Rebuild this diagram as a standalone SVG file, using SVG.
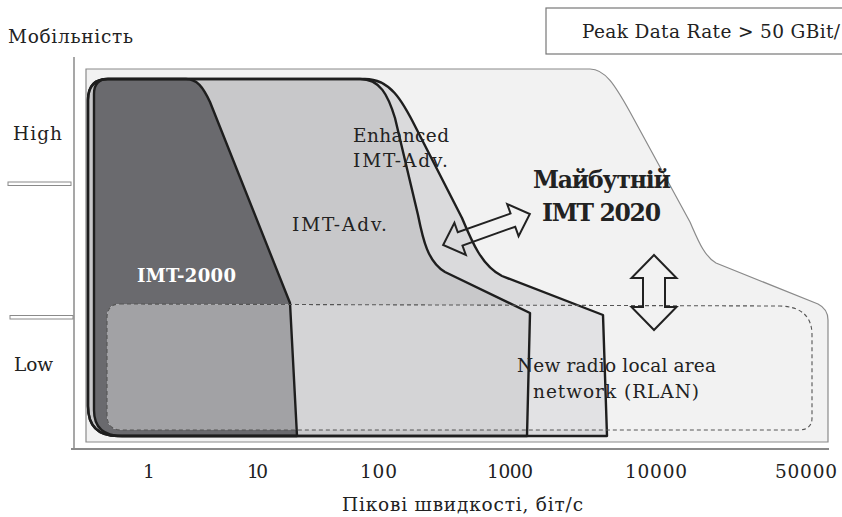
<svg xmlns="http://www.w3.org/2000/svg" xmlns:xlink="http://www.w3.org/1999/xlink" width="842" height="517" viewBox="0 0 842 517">
<style>
.t{font-family:"DejaVu Serif","Liberation Serif",serif;font-size:18.5px;fill:#222}
.b{font-weight:bold}
.out{fill:none;stroke:#1e1e1e;stroke-width:2.4;stroke-linejoin:round}
.arr{fill:none;stroke:#222;stroke-width:2;stroke-linejoin:miter}
.axis{stroke:#8a8a8a;fill:none}
.tick{fill:#fff;stroke:#8a8a8a;stroke-width:1}
</style>
<defs>
<path id="pEnh" d="M88,100 Q88,79 108,79 L365,79 C390,79 402,100 416,128 L462,218 C472,242 482,266 502,276 L603,315 L607,436 L118,436 Q88,436 88,406 Z"/>
<path id="pAdv" d="M88,100 Q88,79 108,79 L360,79 C380,79 388,95 395,118 L418,215 C423,240 428,262 445,272 L530,313 L527,436 L118,436 Q88,436 88,406 Z"/>
<path id="p2000" d="M94,94 Q94,79 108,79 L186,79 C197,79 203,87 210,102 L290,303 L297,436 L122,436 Q94,436 94,410 Z"/>
<path id="pRlan" d="M120,304 L780,306 Q812,307 812,335 L812,418 Q812,430 798,430 L122,430 Q107,430 107,415 L107,318 Q107,304 120,304 Z"/>
<clipPath id="cRlan"><use xlink:href="#pRlan"/></clipPath>
</defs>

<g id="axes">
<line class="axis" x1="74" y1="57" x2="74" y2="449" stroke-width="1.5"/>
<line class="axis" x1="71" y1="449" x2="829" y2="449" stroke-width="2"/>
<rect class="tick" x="8" y="182" width="63" height="3.5"/>
<rect class="tick" x="10" y="315.5" width="63" height="3.5"/>
</g>

<g id="imt2020">
<path d="M86,69 L590,69 C605,69 615,85 630,112 L690,222 C698,240 704,256 716,263 L818,304 Q828,309 828,320 L828,442 L86,442 Z" fill="#f2f2f2" stroke="#8a8a8a" stroke-width="1.2"/>
</g>

<g id="regions-fill">
<use xlink:href="#pEnh" fill="#dadadc"/>
<use xlink:href="#pAdv" fill="#c8c8ca"/>
<use xlink:href="#p2000" fill="#6a6a6e"/>
<g clip-path="url(#cRlan)">
<use xlink:href="#pEnh" fill="#e2e2e4"/>
<use xlink:href="#pAdv" fill="#d4d4d6"/>
<use xlink:href="#p2000" fill="#a2a2a5"/>
</g>
</g>

<g id="enhanced"><use xlink:href="#pEnh" class="out"/></g>
<g id="imtadv"><use xlink:href="#pAdv" class="out"/></g>
<g id="imt2000"><use xlink:href="#p2000" class="out"/></g>
<g id="rlan"><use xlink:href="#pRlan" fill="none" stroke="#555" stroke-width="1.1" stroke-dasharray="4,3"/></g>

<g id="connectors">
<polygon class="arr" transform="translate(486.5,229.5) rotate(-19.6)" points="-46,0 -28,-17 -28,-7 28,-7 28,-17 46,0 28,17 28,7 -28,7 -28,17"/>
<polygon class="arr" transform="translate(654,292.5)" points="0,-37.5 22.5,-14.5 11,-14.5 11,14.5 22.5,14.5 0,37.5 -22.5,14.5 -11,14.5 -11,-14.5 -22.5,-14.5"/>
</g>

<g id="peakbox">
<rect x="546" y="8" width="320" height="46" fill="#fff" stroke="#777" stroke-width="1.2"/>
<text class="t" x="582" y="38" textLength="258">Peak Data Rate &gt; 50 GBit/</text>
</g>

<g id="labels">
<text class="t" x="8" y="43" textLength="125">Мобільність</text>
<text class="t" x="13" y="140" textLength="49">High</text>
<text class="t" x="14" y="371" textLength="39">Low</text>
<text class="t" x="353" y="142" textLength="96">Enhanced</text>
<text class="t" x="353" y="167" textLength="95">IMT-Adv.</text>
<text class="t" x="292" y="231" textLength="95">IMT-Adv.</text>
<text class="t b" x="137" y="282" textLength="99" style="fill:#fff;font-size:18px">IMT-2000</text>
<text class="t b" x="533" y="188" textLength="138" style="font-size:23.5px">Майбутній</text>
<text class="t b" x="542" y="221" textLength="119" style="font-size:23.5px">IMT 2020</text>
<text class="t" x="517" y="372" textLength="199">New radio local area</text>
<text class="t" x="533" y="398" textLength="166">network (RLAN)</text>
<text class="t" x="143" y="478" textLength="12">1</text>
<text class="t" x="247" y="478" textLength="21">10</text>
<text class="t" x="360" y="478" textLength="37">100</text>
<text class="t" x="487" y="478" textLength="46">1000</text>
<text class="t" x="625" y="478" textLength="62">10000</text>
<text class="t" x="775" y="478" textLength="62">50000</text>
<text class="t" x="342" y="511" textLength="241">Пікові швидкості, біт/с</text>
</g>
</svg>
